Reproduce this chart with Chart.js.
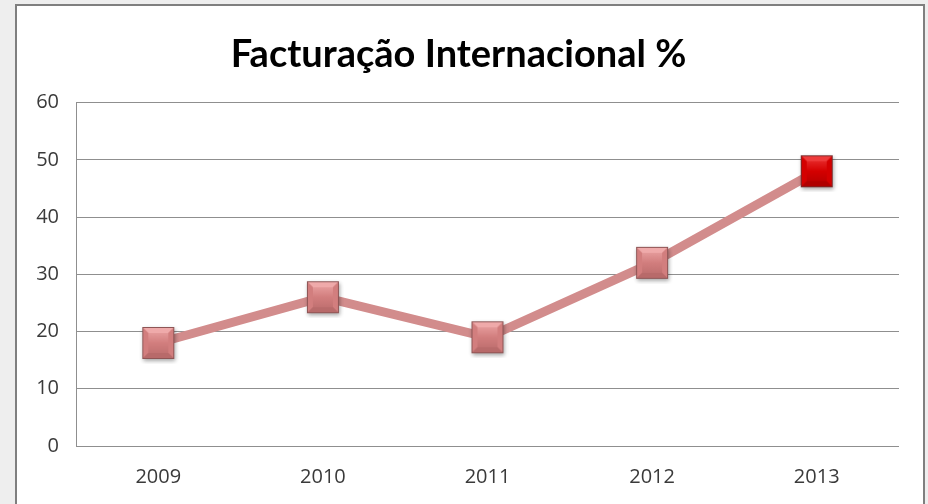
<!DOCTYPE html>
<html>
<head>
<meta charset="utf-8">
<script src="https://cdn.jsdelivr.net/npm/chart.js@4"></script>
<style>
  html, body { margin: 0; padding: 0; background: #eeeeee; }
  #wrap { position: relative; width: 928px; height: 504px; }
</style>
</head>
<body>
<div id="wrap"><canvas id="factChart" width="928" height="504"></canvas></div>
<script>
  /* data */
  const years = ['2009', '2010', '2011', '2012', '2013'];
  const pctValues = [18, 26, 19, 32, 48];
  const yMin = 0, yMax = 60, yStep = 10;
  const chartTitle = 'Facturação Internacional %';

  /* beveled square marker, drawn once on a small canvas */
  function makeMarker(face, light, dark, edge) {
    const c = document.createElement('canvas');
    c.width = 42; c.height = 42;
    const g = c.getContext('2d');
    const o = 5, s = 32, b = 6;
    // soft shadow
    g.save();
    g.shadowColor = 'rgba(0,0,0,0.35)';
    g.shadowBlur = 4; g.shadowOffsetX = 1; g.shadowOffsetY = 2;
    g.fillStyle = face;
    g.fillRect(o, o, s, s);
    g.restore();
    // face
    const fg = g.createLinearGradient(0, o, 0, o + s);
    fg.addColorStop(0, light); fg.addColorStop(0.5, face); fg.addColorStop(1, dark);
    g.fillStyle = fg;
    g.fillRect(o, o, s, s);
    const poly = (pts, col) => {
      g.beginPath(); g.moveTo(pts[0][0], pts[0][1]);
      pts.slice(1).forEach(p => g.lineTo(p[0], p[1]));
      g.closePath(); g.fillStyle = col; g.fill();
    };
    // top bevel
    poly([[o, o], [o + s, o], [o + s - b, o + b], [o + b, o + b]], light);
    // left / right bevels
    poly([[o, o], [o + b, o + b], [o + b, o + s - b], [o, o + s]], face);
    poly([[o + s, o], [o + s, o + s], [o + s - b, o + s - b], [o + s - b, o + b]], face);
    // bottom bevel
    poly([[o, o + s], [o + b, o + s - b], [o + s - b, o + s - b], [o + s, o + s]], dark);
    g.strokeStyle = edge; g.lineWidth = 1;
    g.strokeRect(o + 0.5, o + 0.5, s - 1, s - 1);
    return c;
  }
  const pinkMark = makeMarker('#d27e7e', '#efaaaa', '#b86a6a', '#8e5555');
  const redMark = makeMarker('#d40000', '#ee3a3a', '#b00000', '#7a2a2a');

  /* white framed panel behind the chart */
  const panelBg = {
    id: 'panelBg',
    beforeDraw(chart) {
      const c = chart.ctx;
      c.save();
      c.fillStyle = '#eeeeee';
      c.fillRect(0, 0, chart.width, chart.height);
      c.fillStyle = '#ffffff';
      c.fillRect(17, 6, 906, 510);
      c.strokeStyle = '#7f7f7f';
      c.lineWidth = 2;
      c.strokeRect(16, 5, 908, 512);
      c.restore();
    }
  };

  const tickFont = { family: "'Open Sans'", size: 20 };

  new Chart(document.getElementById('factChart'), {
    type: 'line',
    data: {
      labels: years,
      datasets: [{
        data: pctValues,
        borderColor: '#d28c8c',
        borderWidth: 9,
        tension: 0,
        pointStyle: ctx => ctx.dataIndex === pctValues.length - 1 ? redMark : pinkMark,
        pointRadius: 16,
        pointHoverRadius: 16,
        clip: false
      }]
    },
    options: {
      responsive: false,
      animation: false,
      layout: { padding: { left: 18, right: 29, top: 0, bottom: 14 } },
      plugins: {
        legend: { display: false },
        tooltip: { enabled: false },
        title: {
          display: true,
          text: chartTitle,
          color: '#000000',
          font: { family: 'Lato', size: 38, weight: 'bold' },
          padding: { top: 32, bottom: 25 }
        }
      },
      scales: {
        x: {
          offset: true,
          grid: { display: false, drawTicks: false },
          border: { display: false },
          ticks: { color: '#3a3a3a', font: tickFont, padding: 19 },
          afterFit: s => { s.height = 44; }
        },
        y: {
          min: yMin, max: yMax,
          ticks: { stepSize: yStep, color: '#3a3a3a', font: tickFont, padding: 17 },
          grid: { color: '#8f8f8f', lineWidth: 1, drawTicks: false },
          border: { display: true, color: '#8f8f8f', width: 1 },
          afterFit: s => { s.width = 58; }
        }
      }
    },
    plugins: [panelBg]
  });
</script>
</body>
</html>
